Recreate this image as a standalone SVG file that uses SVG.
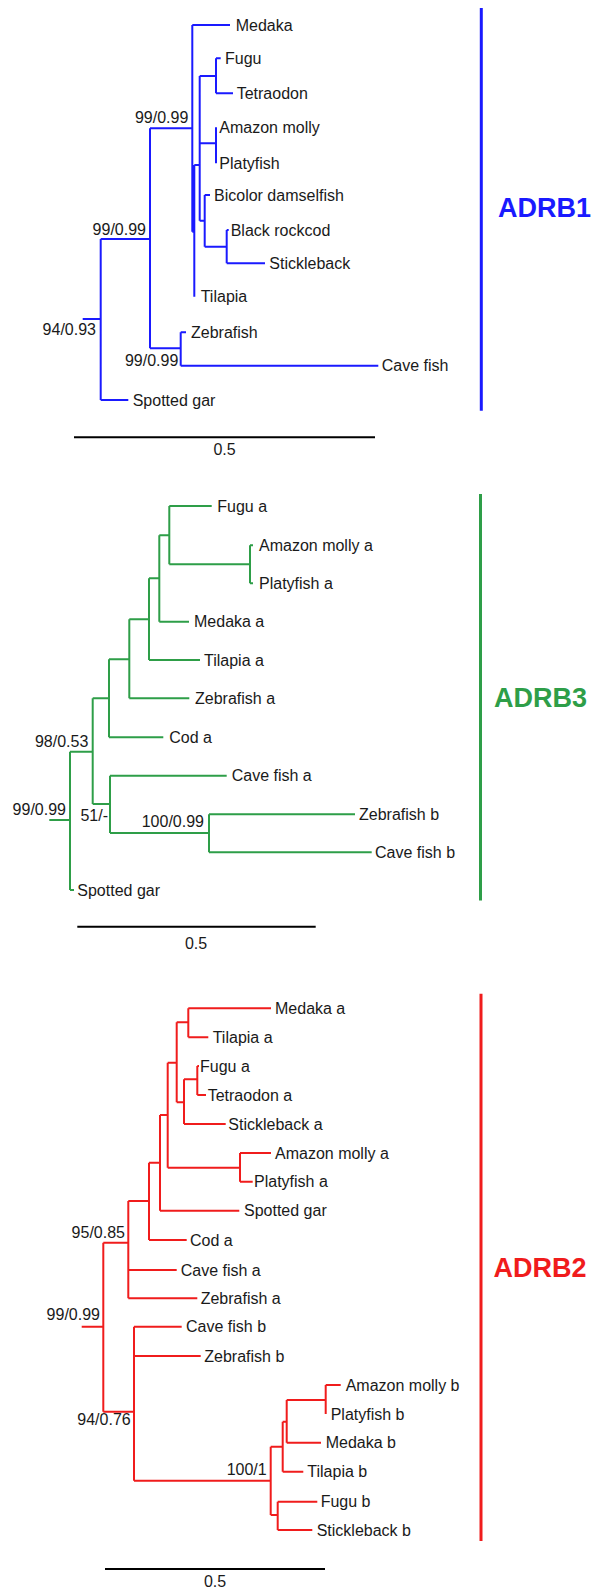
<svg xmlns="http://www.w3.org/2000/svg" width="595" height="1590" viewBox="0 0 595 1590">
<style>
text{font-family:"Liberation Sans",Arial,sans-serif;font-size:16px;fill:#1a1a1a}
.sup{text-anchor:end}
.b{stroke:#1a1aff;stroke-width:2;fill:none}
.g{stroke:#2e9e48;stroke-width:2;fill:none}
.r{stroke:#f01c1c;stroke-width:2;fill:none}
.scale{stroke:#000;stroke-width:2}
.bar{stroke-width:3}
.lg{font-weight:bold;font-size:27px}
</style>
<rect width="595" height="1590" fill="#fff"/>

<!-- ADRB1 -->
<g id="connectors-adrb1" class="b">
<path d="M82.7,319H100.7M100.7,239V400M100.7,239H150M100.7,400H128.3M150,128.3V348.3M150,128.3H192.3M150,348.3H180.7M180.7,332.3V365.7M180.7,332.3H186M180.7,365.7H378.3"/>
<path d="M192.3,25V231.7M192.3,25H230M192.3,231.7H194.3M194.3,165H199.7M194.3,165V296.7M199.7,76V220.7M199.7,76H216M216,58.3V93.3M216,58.3H220.7M216,93.3H233M199.7,143.3H216M216,127.3V163.3M199.7,220.7H204.7M204.7,195V246.7M204.7,195H210M204.7,246.7H226.7M226.7,230V263.3M226.7,230H228.7M226.7,263.3H265"/>
</g>
<g id="adrb1-taxa">
<g id="b-medaka"><text x="235.7" y="30.5">Medaka</text></g>
<g id="b-fugu"><text x="225" y="63.8">Fugu</text></g>
<g id="b-tetraodon"><text x="236.7" y="98.8">Tetraodon</text></g>
<g id="b-amazon"><text x="219.3" y="132.8">Amazon molly</text></g>
<g id="b-platy"><text x="219.3" y="168.8">Platyfish</text></g>
<g id="b-bicolor"><text x="214" y="200.5">Bicolor damselfish</text></g>
<g id="b-rockcod"><text x="230.7" y="235.5">Black rockcod</text></g>
<g id="b-stickle"><text x="269.3" y="268.8">Stickleback</text></g>
<g id="b-tilapia"><text x="200.7" y="302.2">Tilapia</text></g>
<g id="b-zebra"><text x="191" y="337.8">Zebrafish</text></g>
<g id="b-cave"><text x="381.7" y="371.2">Cave fish</text></g>
<g id="b-gar"><text x="132.7" y="405.5">Spotted gar</text></g>
</g>
<g id="adrb1-support">
<text class="sup" x="188.3" y="123">99/0.99</text>
<text class="sup" x="146" y="235">99/0.99</text>
<text class="sup" x="96" y="334.5">94/0.93</text>
<text class="sup" x="178.3" y="365.5">99/0.99</text>
</g>
<g id="adrb1-scale">
<line class="scale" x1="74" y1="437.3" x2="375" y2="437.3"/>
<text x="224.5" y="455" text-anchor="middle">0.5</text>
</g>
<g id="adrb1-legend">
<line class="b bar" x1="481.3" y1="8" x2="481.3" y2="410.7"/>
<text class="lg" x="498" y="217.3" fill="#1a1aff" style="fill:#1a1aff">ADRB1</text>
</g>

<!-- ADRB3 -->
<g id="connectors-adrb3" class="g">
<path d="M49.3,820H70M70,751.7V890M70,751.7H92.7M70,890H74M92.7,698.3V804M92.7,698.3H109M109,659.3V737.3M109,659.3H129.3M109,737.3H163.3M129.3,619.3V698.3M129.3,698.3H189.3M129.3,619.3H149M149,578.3V660M149,660H200M149,578.3H159.3M159.3,535.3V621.7M159.3,621.7H189M159.3,535.3H169.3M169.3,506V564.3M169.3,506H211.7M169.3,564.3H250M250,545.3V583.3M250,545.3H253M250,583.3H253"/>
<path d="M92.7,804H110M110,775.7V833M110,775.7H226.7M110,833H209M209,814.3V852.3M209,814.3H355M209,852.3H371.7"/>
</g>
<g id="adrb3-taxa">
<g id="g-fugu"><text x="217.3" y="511.5">Fugu a</text></g>
<g id="g-amazon"><text x="259" y="550.8">Amazon molly a</text></g>
<g id="g-platy"><text x="259" y="588.8">Platyfish a</text></g>
<g id="g-medaka"><text x="194" y="627.2">Medaka a</text></g>
<g id="g-tilapia"><text x="204" y="665.5">Tilapia a</text></g>
<g id="g-zebra-a"><text x="195" y="703.8">Zebrafish a</text></g>
<g id="g-cod"><text x="169.3" y="742.8">Cod a</text></g>
<g id="g-cave-a"><text x="231.7" y="781.2">Cave fish a</text></g>
<g id="g-zebra-b"><text x="359" y="819.8">Zebrafish b</text></g>
<g id="g-cave-b"><text x="375" y="857.8">Cave fish b</text></g>
<g id="g-gar"><text x="77.3" y="895.5">Spotted gar</text></g>
</g>
<g id="adrb3-support">
<text class="sup" x="88.3" y="746.7">98/0.53</text>
<text class="sup" x="66" y="815">99/0.99</text>
<text class="sup" x="108" y="820.7">51/-</text>
<text class="sup" x="204" y="826.7">100/0.99</text>
</g>
<g id="adrb3-scale">
<line class="scale" x1="77.3" y1="926.7" x2="315.7" y2="926.7"/>
<text x="196" y="948.5" text-anchor="middle">0.5</text>
</g>
<g id="adrb3-legend">
<line class="g bar" x1="480.5" y1="494" x2="480.5" y2="900.5"/>
<text class="lg" x="494" y="707.3" style="fill:#2e9e48">ADRB3</text>
</g>

<!-- ADRB2 -->
<g id="connectors-adrb2" class="r">
<path d="M81.7,1326.7H103.3M103.3,1242.7V1411.7M103.3,1242.7H128.3M103.3,1411.7H134M128.3,1201V1298.3M128.3,1201H149M128.3,1270H176.7M128.3,1298.3H197.3M149,1162.7V1240M149,1240H186.7M149,1162.7H160M160,1115V1210.7M160,1210.7H239.3M160,1115H167.7M167.7,1062.7V1167.7M167.7,1167.7H240M240,1153V1181.7M240,1153H271M240,1181.7H252.7M167.7,1062.7H176.7M176.7,1022.3V1102.3M176.7,1022.3H188.3M188.3,1008.3V1037.3M188.3,1008.3H271M188.3,1037.3H208.3M176.7,1102.3H184M184,1079.3V1124M184,1124H225.7M184,1079.3H197.3M197.3,1066V1095M197.3,1066H199M197.3,1095H206"/>
<path d="M134,1326.7V1480.7M134,1326.7H181.7M134,1356H200.7M134,1480.7H270.7M270.7,1446.7V1515M270.7,1446.7H282.7M282.7,1421.7V1471.7M282.7,1471.7H303.3M282.7,1421.7H286.7M286.7,1400V1442.7M286.7,1442.7H321M286.7,1400H325.7M325.7,1385V1414M325.7,1385H340.7M270.7,1515H277.7M277.7,1501.7V1530M277.7,1501.7H317.3M277.7,1530H312.3"/>
</g>
<g id="adrb2-taxa">
<g id="r-medaka-a"><text x="275" y="1013.8">Medaka a</text></g>
<g id="r-tilapia-a"><text x="212.7" y="1042.8">Tilapia a</text></g>
<g id="r-fugu-a"><text x="200" y="1071.5">Fugu a</text></g>
<g id="r-tetra-a"><text x="207.7" y="1100.5">Tetraodon a</text></g>
<g id="r-stickle-a"><text x="228.3" y="1129.5">Stickleback a</text></g>
<g id="r-amazon-a"><text x="275" y="1158.5">Amazon molly a</text></g>
<g id="r-platy-a"><text x="254" y="1187.2">Platyfish a</text></g>
<g id="r-gar"><text x="244" y="1216.2">Spotted gar</text></g>
<g id="r-cod-a"><text x="190" y="1245.5">Cod a</text></g>
<g id="r-cave-a"><text x="180.7" y="1275.5">Cave fish a</text></g>
<g id="r-zebra-a"><text x="200.7" y="1303.8">Zebrafish a</text></g>
<g id="r-cave-b"><text x="186" y="1332.2">Cave fish b</text></g>
<g id="r-zebra-b"><text x="204.3" y="1361.5">Zebrafish b</text></g>
<g id="r-amazon-b"><text x="345.7" y="1390.5">Amazon molly b</text></g>
<g id="r-platy-b"><text x="330.7" y="1419.5">Platyfish b</text></g>
<g id="r-medaka-b"><text x="325.7" y="1448.2">Medaka b</text></g>
<g id="r-tilapia-b"><text x="307.3" y="1477.2">Tilapia b</text></g>
<g id="r-fugu-b"><text x="320.7" y="1507.2">Fugu b</text></g>
<g id="r-stickle-b"><text x="316.7" y="1535.5">Stickleback b</text></g>
</g>
<g id="adrb2-support">
<text class="sup" x="125" y="1238.3">95/0.85</text>
<text class="sup" x="100" y="1320">99/0.99</text>
<text class="sup" x="130.7" y="1425">94/0.76</text>
<text class="sup" x="266.7" y="1475">100/1</text>
</g>
<g id="adrb2-scale">
<line class="scale" x1="105" y1="1569" x2="325" y2="1569"/>
<text x="215" y="1586.7" text-anchor="middle">0.5</text>
</g>
<g id="adrb2-legend">
<line class="r bar" x1="481" y1="993.7" x2="481" y2="1541"/>
<text class="lg" x="493.5" y="1277" style="fill:#f01c1c">ADRB2</text>
</g>
</svg>
